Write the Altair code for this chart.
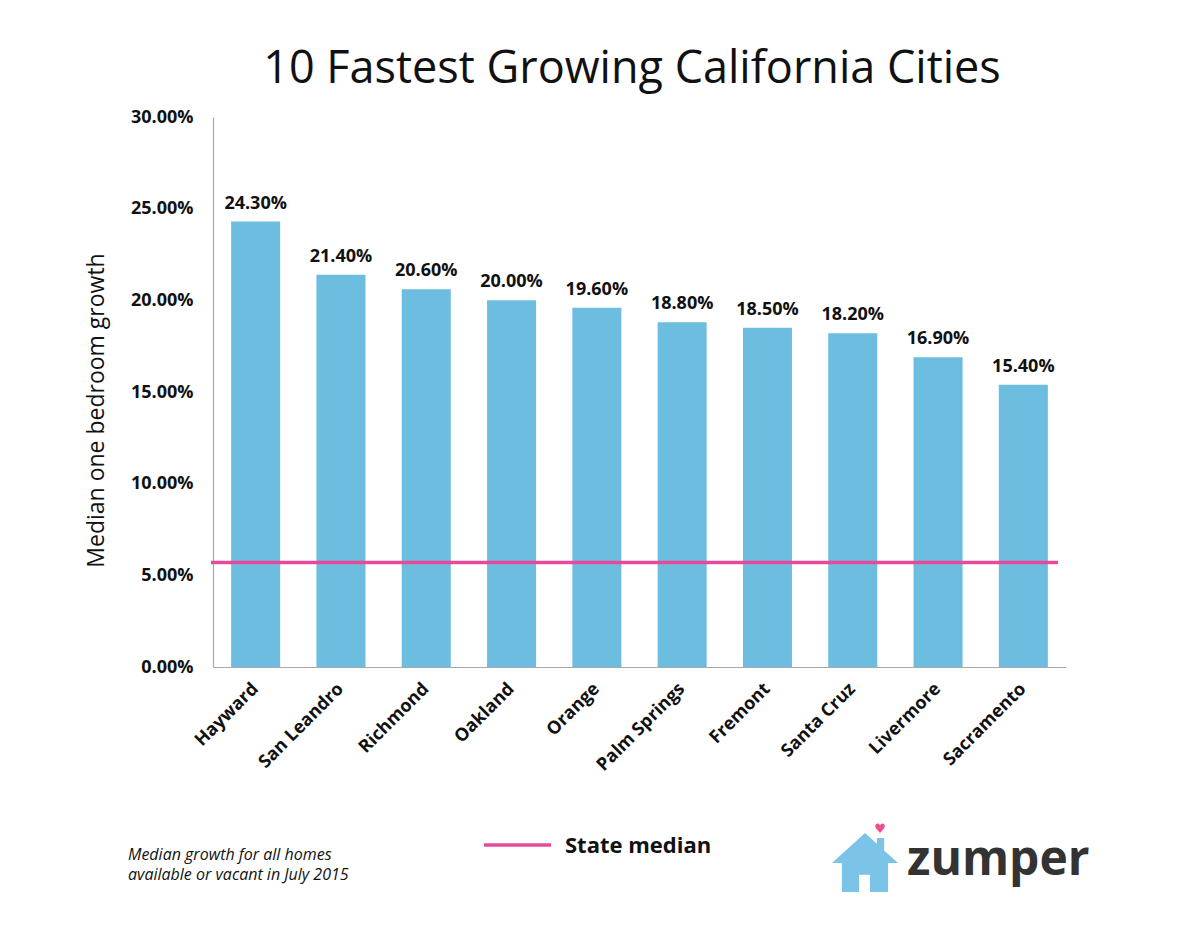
import altair as alt
import pandas as pd

# Median one-bedroom rent growth, July 2015
cities = ["Hayward", "San Leandro", "Richmond", "Oakland", "Orange",
          "Palm Springs", "Fremont", "Santa Cruz", "Livermore", "Sacramento"]
growth = [0.243, 0.214, 0.206, 0.200, 0.196, 0.188, 0.185, 0.182, 0.169, 0.154]
state_median = 0.057
y_ticks = [0.0, 0.05, 0.10, 0.15, 0.20, 0.25, 0.30]

title_text = "10 Fastest Growing California Cities"
y_title = "Median one bedroom growth"
footnote = ["Median growth for all homes", "available or vacant in July 2015"]
legend_label = "State median"
brand = "zumper"

BAR = "#6DBDE1"
PINK = "#E64A9B"
AXIS = "#A8A8A8"
FONT = "Open Sans"

W, H = 853, 550

df = pd.DataFrame({"city": cities, "growth": growth})

x_enc = alt.X(
    "city:N", sort=cities, title=None,
    scale=alt.Scale(paddingInner=0.425, paddingOuter=0.2125),
    axis=alt.Axis(labelAngle=315, labelAlign="right", labelBaseline="middle",
                  labelFont=FONT, labelFontWeight="bold", labelFontSize=18,
                  labelColor="#111", labelPadding=19, ticks=False,
                  domainColor=AXIS, domainWidth=1.2),
)
y_enc = alt.Y(
    "growth:Q", title=y_title,
    scale=alt.Scale(domain=[0, 0.30], nice=False),
    axis=alt.Axis(values=y_ticks, format=".2%", grid=False, ticks=False,
                  labelFont=FONT, labelFontWeight="bold", labelFontSize=18,
                  labelColor="#111", labelPadding=20,
                  titleFont=FONT, titleFontWeight="normal", titleFontSize=23,
                  titleColor="#111", titlePadding=22, titleY=293,
                  domainColor=AXIS, domainWidth=1.2),
)

base = alt.Chart(df)

bars = base.mark_bar(color=BAR).encode(x=x_enc, y=y_enc)

values = base.mark_text(
    font=FONT, fontWeight="bold", fontSize=18, color="#111",
    baseline="alphabetic", dy=-13,
).encode(x=alt.X("city:N", sort=cities), y="growth:Q",
         text=alt.Text("growth:Q", format=".2%"))

median_rule = alt.Chart(pd.DataFrame({"m": [state_median]})).mark_rule(
    color=PINK, strokeWidth=3.5
).encode(y="m:Q", x=alt.value(-2), x2=alt.value(845))

title = alt.Chart(pd.DataFrame({"t": [title_text]})).mark_text(
    font=FONT, fontWeight="normal", fontSize=45, color="#111",
    align="center", baseline="middle",
).encode(x=alt.value(419), y=alt.value(-48), text="t:N")

note = alt.Chart(pd.DataFrame({"t": [footnote]})).mark_text(
    font=FONT, fontStyle="italic", fontSize=16, color="#111",
    align="left", baseline="top", lineHeight=20,
).encode(x=alt.value(-85), y=alt.value(730), text="t")

legend_line = alt.Chart(pd.DataFrame({"k": [legend_label]})).mark_rule(
    color=PINK, strokeWidth=3.5
).encode(x=alt.value(271), x2=alt.value(338), y=alt.value(728))

legend_text = alt.Chart(pd.DataFrame({"t": [legend_label]})).mark_text(
    font=FONT, fontWeight="bold", fontSize=22, color="#111",
    align="left", baseline="middle",
).encode(x=alt.value(352), y=alt.value(729), text="t:N")

HOUSE = ("M0,-0.88 L0.36,-0.55 L0.36,-0.73 L0.58,-0.73 L0.58,-0.35 L1,0.03 "
         "L0.7,0.03 L0.7,0.91 L0.15,0.91 L0.15,0.39 L-0.18,0.39 L-0.18,0.91 "
         "L-0.7,0.91 L-0.7,0.03 L-1,0.03 Z")

house = alt.Chart(pd.DataFrame({"k": [brand]})).mark_point(
    shape=HOUSE, filled=True, fill="#7CC3E8", strokeWidth=0, opacity=1, size=4356,
).encode(x=alt.value(652), y=alt.value(745))

heart = alt.Chart(pd.DataFrame({"t": ["\u2665"]})).mark_text(
    font="DejaVu Sans", fontSize=13, color="#EE4F93",
    align="center", baseline="middle",
).encode(x=alt.value(667), y=alt.value(712), text="t:N")

brand_text = alt.Chart(pd.DataFrame({"t": [brand]})).mark_text(
    font=FONT, fontWeight="bold", fontSize=48, color="#333333",
    align="left", baseline="alphabetic",
).encode(x=alt.value(694), y=alt.value(758), text="t:N")

chart = alt.layer(
    bars, values, median_rule, title, note, legend_line, legend_text,
    house, heart, brand_text,
).properties(
    width=W, height=H,
    autosize=alt.AutoSizeParams(type="none"),
    padding={"left": 213, "top": 117, "right": 1200 - 213 - W, "bottom": 939 - 117 - H},
    background="white",
).configure_view(stroke=None)

chart.save("out.html", embed_options={"renderer": "svg", "actions": False})
